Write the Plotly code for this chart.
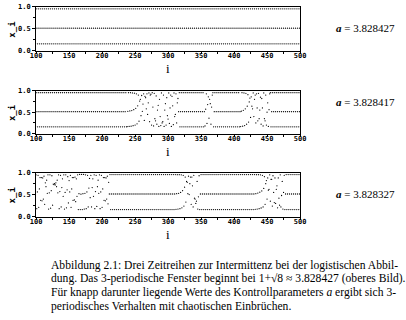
import plotly.graph_objects as go

# ---------------- data ----------------
i_first, i_last = 100, 500
orbit_levels = [0.160, 0.514, 0.956]          # period-3 orbit (low, mid, high)
a_labels = ["a = 3.828427", "a = 3.828417", "a = 3.828327"]

x_ticks = [100, 150, 200, 250, 300, 350, 400, 450, 500]
y_ticks = [0.0, 0.5, 1.0]
y_ticktext = ["0.0", "0.5", "1.0"]

# panel 1: purely periodic (no bursts)
bursts_1 = {}

# panel 2: chaotic bursts (first index -> observed values)
bursts_2 = {
    238: [0.165, 0.52, 0.955, 0.17, 0.53, 0.955, 0.175, 0.54, 0.95, 0.185, 0.56, 0.945,
          0.20, 0.59, 0.93, 0.23, 0.65, 0.90, 0.29, 0.76, 0.80, 0.42, 0.89, 0.52,
          0.69, 0.93, 0.31, 0.87, 0.84, 0.58, 0.93, 0.45, 0.72, 0.95, 0.28, 0.90,
          0.92, 0.20, 0.955, 0.62, 0.18, 0.94, 0.35, 0.30, 0.88, 0.22, 0.55, 0.66,
          0.17, 0.80, 0.40, 0.19, 0.95, 0.25, 0.28, 0.90, 0.17, 0.55, 0.70, 0.20,
          0.84, 0.42, 0.34, 0.95, 0.24, 0.60, 0.90, 0.17, 0.87, 0.65, 0.21, 0.95,
          0.40, 0.45, 0.93, 0.25, 0.72, 0.82],
    356: [0.18, 0.57, 0.93, 0.24, 0.68, 0.86, 0.36, 0.80, 0.70, 0.22, 0.62, 0.90],
    410: [0.165, 0.525, 0.955, 0.175, 0.545, 0.95, 0.19, 0.58, 0.94, 0.22, 0.64, 0.91,
          0.27, 0.74, 0.83, 0.38, 0.86, 0.64, 0.58, 0.95, 0.40, 0.80, 0.90, 0.25,
          0.93, 0.60, 0.30, 0.94, 0.35, 0.55, 0.85, 0.22, 0.82, 0.60, 0.18, 0.95,
          0.35, 0.30, 0.90, 0.20, 0.50, 0.72, 0.17, 0.56, 0.93],
}

# panel 3: chaotic start plus two bursts
bursts_3 = {
    100: [0.95, 0.18, 0.56, 0.94, 0.21, 0.63, 0.89, 0.37, 0.89, 0.36,
          0.88, 0.40, 0.92, 0.28, 0.77, 0.68, 0.83, 0.53, 0.95, 0.17,
          0.54, 0.95, 0.19, 0.59, 0.93, 0.26, 0.74, 0.73, 0.75, 0.72,
          0.77, 0.68, 0.83, 0.54, 0.95, 0.18, 0.57, 0.94, 0.22, 0.66,
          0.86, 0.46, 0.95, 0.17, 0.55, 0.95, 0.20, 0.61, 0.91, 0.31,
          0.82, 0.56, 0.94, 0.21, 0.63, 0.89, 0.37, 0.89, 0.38, 0.90,
          0.34, 0.86, 0.46, 0.95, 0.16, 0.52, 0.96, 0.16, 0.51, 0.96,
          0.16, 0.52, 0.96, 0.17, 0.53, 0.95, 0.18, 0.56, 0.94, 0.22,
          0.65, 0.87, 0.43, 0.94, 0.22, 0.66, 0.86, 0.46, 0.95, 0.18,
          0.57, 0.94, 0.23, 0.68, 0.83, 0.53, 0.95, 0.18, 0.56, 0.94,
          0.21, 0.63, 0.89, 0.37, 0.89, 0.36, 0.88, 0.40, 0.92, 0.29,
          0.78],
    312: [0.165, 0.52, 0.955, 0.17, 0.53, 0.955, 0.18, 0.55, 0.95, 0.20, 0.59, 0.94,
          0.24, 0.67, 0.90, 0.33, 0.80, 0.78, 0.52, 0.92, 0.50, 0.75, 0.90, 0.28,
          0.90, 0.70, 0.22, 0.94, 0.42, 0.40, 0.30, 0.35, 0.80, 0.17, 0.45, 0.93],
    432: [0.165, 0.52, 0.955, 0.17, 0.535, 0.955, 0.18, 0.555, 0.95, 0.195, 0.585, 0.94,
          0.22, 0.64, 0.91, 0.28, 0.75, 0.82, 0.40, 0.88, 0.60, 0.62, 0.95, 0.35,
          0.85, 0.85, 0.24, 0.93, 0.55, 0.32, 0.88, 0.30, 0.62, 0.70, 0.20, 0.88,
          0.42, 0.26, 0.95, 0.22, 0.48, 0.80, 0.17, 0.55, 0.94],
}

caption_lines = [
    "Abbildung 2.1: Drei Zeitreihen zur Intermittenz bei der logistischen Abbil-",
    "dung. Das 3-periodische Fenster beginnt bei 1+√8 ≈ 3.828427 (oberes Bild).",
    "Für knapp darunter liegende Werte des Kontrollparameters <i>a</i> ergibt sich 3-",
    "periodisches Verhalten mit chaotischen Einbrüchen.",
]


def build_series(bursts):
    xs, ys = [], []
    burst_vals = {}
    for start, vals in bursts.items():
        for k, v in enumerate(vals):
            burst_vals[start + k] = v
    for i in range(i_first, i_last + 1):
        xs.append(i)
        if i in burst_vals:
            ys.append(burst_vals[i])
        else:
            ys.append(orbit_levels[i % 3])
    return xs, ys


# ---------------- layout (pixel geometry of the 406x320 page) ----------------
W, H = 406, 320
panels_px = [(3, 48), (89, 133), (173, 218)]   # top, bottom of each frame
x_px = (31, 303)
label_y_px = [25, 101, 195]
ititle_y_px = [66, 151, 236]


def px_x(p):
    return p / W


def px_y(p):
    return 1 - p / H


fig = go.Figure()
all_bursts = [bursts_1, bursts_2, bursts_3]
tickfont = dict(family="DejaVu Sans Mono", size=7, color="black", weight="bold")

for k, bursts in enumerate(all_bursts):
    xs, ys = build_series(bursts)
    suffix = "" if k == 0 else str(k + 1)
    fig.add_trace(go.Scatter(
        x=xs, y=ys, mode="markers",
        marker=dict(size=1.25, color="black", line=dict(width=0)),
        xaxis="x" + suffix, yaxis="y" + suffix, showlegend=False,
        hoverinfo="skip",
    ))
    top, bot = panels_px[k]
    xa = dict(
        domain=[px_x(x_px[0]), px_x(x_px[1])], range=[i_first, i_last],
        tickvals=x_ticks, ticks="outside", ticklen=2, tickcolor="black",
        showline=True, mirror=True, linecolor="black", linewidth=1,
        showgrid=False, zeroline=False, tickfont=tickfont, ticklabelstandoff=-4,
        minor=dict(dtick=25, ticks="outside", ticklen=2, tickcolor="black", showgrid=False),
        anchor="y" + suffix, fixedrange=True,
    )
    ya = dict(
        domain=[px_y(bot), px_y(top)], range=[0, 1],
        tickvals=y_ticks, ticktext=y_ticktext, ticks="outside", ticklen=3,
        tickcolor="black", showline=True, mirror=True, linecolor="black",
        linewidth=1, showgrid=False, zeroline=False, tickfont=tickfont,
        minor=dict(dtick=0.25, ticks="outside", ticklen=2, tickcolor="black", showgrid=False),
        anchor="x" + suffix, fixedrange=True,
    )
    fig.update_layout(**{"xaxis" + suffix: xa, "yaxis" + suffix: ya})

annotations = []
for k in range(3):
    top, bot = panels_px[k]
    # y-axis title
    annotations.append(dict(
        x=px_x(6), y=px_y((top + bot) / 2), xref="paper", yref="paper",
        text="x_i", textangle=-90, showarrow=False,
        font=dict(family="DejaVu Sans Mono", size=9, color="black", weight="bold"),
        xanchor="center", yanchor="middle",
    ))
    # x-axis title
    annotations.append(dict(
        x=px_x((x_px[0] + x_px[1]) / 2), y=px_y(ititle_y_px[k]),
        xref="paper", yref="paper", text="i", showarrow=False,
        font=dict(family="Liberation Serif", size=13, color="black"),
        xanchor="center", yanchor="middle",
    ))
    # parameter label
    lab = a_labels[k].replace("a =", "<b><i>a</i></b> =")
    annotations.append(dict(
        x=px_x(338), y=px_y(label_y_px[k]), xref="paper", yref="paper",
        text=lab, showarrow=False,
        font=dict(family="Liberation Serif", size=11, color="black"),
        xanchor="left", yanchor="middle",
    ))

cap_y = [268, 282, 296, 310]
for line, yy in zip(caption_lines, cap_y):
    annotations.append(dict(
        x=px_x(44), y=px_y(yy), xref="paper", yref="paper", text=line,
        showarrow=False, font=dict(family="Liberation Serif", size=11.6, color="black"),
        xanchor="left", yanchor="middle",
    ))

fig.update_layout(
    width=W, height=H, margin=dict(l=0, r=0, t=0, b=0),
    paper_bgcolor="white", plot_bgcolor="white",
    annotations=annotations, showlegend=False,
)

fig.write_html("out.html", config={"displayModeBar": False})
